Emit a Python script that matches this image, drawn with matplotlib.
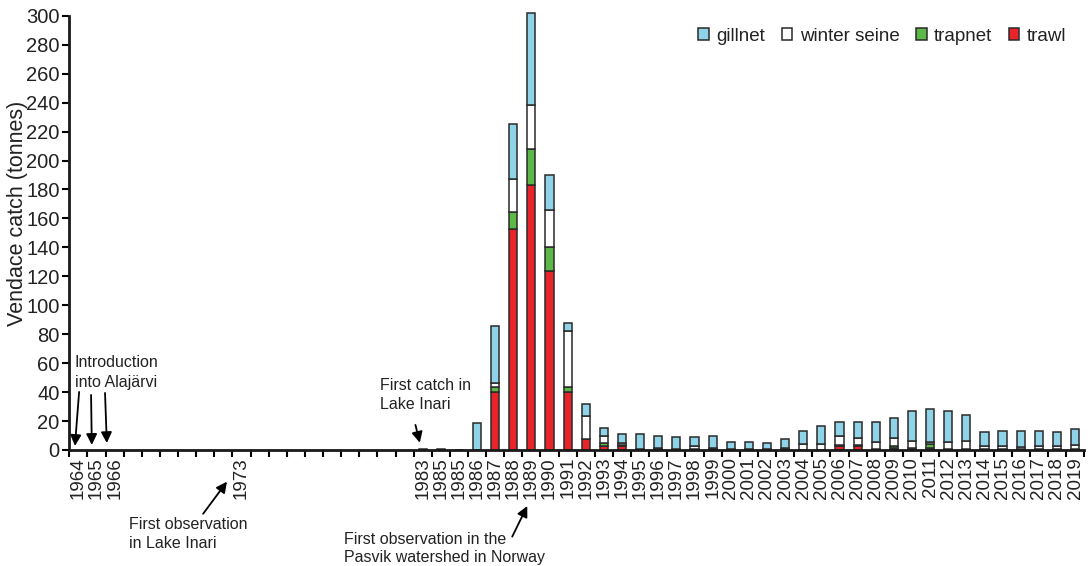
"""Vendace catch by gear type, Lake Inari / Pasvik"""
import matplotlib
matplotlib.use("Agg")
import matplotlib.pyplot as plt
import numpy as np

plt.rcParams['font.family'] = ['Liberation Sans', 'DejaVu Sans']

# year slots shown on the axis
first_year = 1964
last_year = 2019
tick_labels = ['1964', '1965', '1966', '', '', '', '', '', '', '1973',
               '', '', '', '', '', '', '', '', '',
               '1983', '1985', '1985', '1986', '1987', '1988', '1989', '1990', '1991', '1992',
               '1993', '1994', '1995', '1996', '1997', '1998', '1999', '2000', '2001', '2002',
               '2003', '2004', '2005', '2006', '2007', '2008', '2009', '2010', '2011', '2012',
               '2013', '2014', '2015', '2016', '2017', '2018', '2019']

# catch data (tonnes), 1983-2019
catch_years = [1983, 1984, 1985, 1986, 1987, 1988, 1989, 1990, 1991, 1992,
               1993, 1994, 1995, 1996, 1997, 1998, 1999, 2000, 2001, 2002,
               2003, 2004, 2005, 2006, 2007, 2008, 2009, 2010, 2011, 2012,
               2013, 2014, 2015, 2016, 2017, 2018, 2019]
trawl = [0, 0, 0, 0, 40, 152.5, 183.2, 123.7, 39.9, 7.4,
         3, 3, 0.3, 0.2, 0.2, 0.5, 0.3, 0.2, 0.2, 0.1,
         0.3, 0.2, 0.2, 3, 3, 0.3, 1.5, 1.2, 1.2, 0.2,
         0.2, 0.3, 0.2, 0.2, 0.2, 0.2, 0.2]
trapnet = [0, 0, 0, 0, 3.8, 12, 24.6, 16.9, 3.4, 0.3,
           1.6, 0.6, 0, 0.8, 0, 0.5, 0.3, 0, 0, 0,
           0.3, 0, 0, 0.3, 0.3, 0.2, 1.5, 0.5, 2.7, 0.2,
           0.2, 0.3, 0.2, 0.2, 0.2, 0.2, 0.2]
winter_seine = [0, 0, 0, 0, 2.7, 22.8, 30.4, 25.3, 39, 15.9,
                5.1, 1, 0.6, 0.2, 0.4, 1.5, 1, 0.3, 0.3, 0.3,
                1, 3.9, 3.9, 6.4, 5.2, 4.8, 5.5, 4.8, 1.4, 5.1,
                6.1, 2.4, 2.6, 1.6, 2.6, 2.6, 3.1]
gillnet = [0.6, 0.6, 0, 18.4, 39.2, 38, 63.6, 24, 5.7, 8,
           5.7, 6.7, 10.4, 8.7, 8.2, 6.3, 8.3, 5, 5, 4.2,
           6.2, 9, 12.3, 9.9, 11.1, 14.3, 13.4, 20.7, 22.8, 21.7,
           17.5, 9.2, 10.1, 11.1, 10.1, 9.2, 10.8]

colors = {'gillnet': '#8fd3e8', 'winter seine': '#ffffff',
          'trapnet': '#5db947', 'trawl': '#e8242a'}

fig = plt.figure(figsize=(10.9, 5.66), dpi=100)
ax = fig.add_axes([0.0636, 0.205, 0.931, 0.767])

x = np.array(catch_years)
width = 0.45
edge = dict(edgecolor='#2a2a2a', linewidth=1.1, clip_on=False)
b0 = np.zeros(len(x))
h_trawl = ax.bar(x, trawl, width, bottom=b0, color=colors['trawl'], label='trawl', **edge)
b1 = b0 + np.array(trawl)
h_trap = ax.bar(x, trapnet, width, bottom=b1, color=colors['trapnet'], label='trapnet', **edge)
b2 = b1 + np.array(trapnet)
h_ws = ax.bar(x, winter_seine, width, bottom=b2, color=colors['winter seine'], label='winter seine', **edge)
b3 = b2 + np.array(winter_seine)
h_gill = ax.bar(x, gillnet, width, bottom=b3, color=colors['gillnet'], label='gillnet', **edge)

ax.set_xlim(first_year - 0.5, last_year + 0.5)
ax.set_ylim(0, 300)
ax.set_yticks(np.arange(0, 301, 20))
ax.tick_params(axis='y', labelsize=14.5, length=5, width=1.5, direction='out', pad=2,
               labelcolor='#222222')

years = np.arange(first_year, last_year + 1)
ax.set_xticks(years)
ax.set_xticklabels(tick_labels, rotation=90, fontsize=13.5, color='#222222')
ax.set_xticks(np.arange(first_year - 0.5, last_year + 1), minor=True)
ax.tick_params(axis='x', which='major', length=0, pad=5)
ax.tick_params(axis='x', which='minor', length=5, width=1.5, direction='out')

for s in ['top', 'right']:
    ax.spines[s].set_visible(False)
for s in ['left', 'bottom']:
    ax.spines[s].set_linewidth(2)
    ax.spines[s].set_color('#1a1a1a')

ax.set_ylabel('Vendace catch (tonnes)', fontsize=15.5, color='#222222')
ax.yaxis.set_label_coords(-0.041, 0.544)

leg = ax.legend([h_gill, h_ws, h_trap, h_trawl], ['gillnet', 'winter seine', 'trapnet', 'trawl'],
                loc='upper right', bbox_to_anchor=(0.99, 0.99), borderaxespad=0, ncol=4,
                frameon=False, fontsize=13.5, handlelength=0.55, handleheight=0.55,
                handletextpad=0.4, columnspacing=0.9)
for t in leg.get_texts():
    t.set_color('#222222')

arrow = dict(arrowstyle='-|>', color='black', lw=1.3, mutation_scale=16, shrinkA=0, shrinkB=0)
note = dict(fontsize=11.5, color='#222222', annotation_clip=False)

# introduction into Alajarvi, 1964-1966
ax.text(1963.81, 41.5, 'Introduction\ninto Alajärvi', ha='left', va='bottom',
        fontsize=11.5, color='#222222', linespacing=1.4)
ax.annotate('', xy=(1963.81, 2.8), xytext=(1964.04, 40.1), arrowprops=arrow, annotation_clip=False)
ax.annotate('', xy=(1964.74, 3.5), xytext=(1964.70, 38.0), arrowprops=arrow, annotation_clip=False)
ax.annotate('', xy=(1965.57, 4.8), xytext=(1965.47, 39.4), arrowprops=arrow, annotation_clip=False)

ax.annotate('First observation\nin Lake Inari', xy=(1972.2, -21.9), xytext=(1966.8, -46.0),
            ha='left', va='top', linespacing=1.35, arrowprops=arrow, **note)
ax.text(1980.66, 26.3, 'First catch in\nLake Inari', ha='left', va='bottom',
        fontsize=11.5, color='#222222', linespacing=1.35)
ax.annotate('', xy=(1982.84, 5.0), xytext=(1982.6, 17.3), arrowprops=arrow, annotation_clip=False)
ax.text(1978.68, -56.5, 'First observation in the\nPasvik watershed in Norway', ha='left', va='top',
        fontsize=11.5, color='#222222', linespacing=1.25)
ax.annotate('', xy=(1988.77, -38.7), xytext=(1987.94, -59.9), arrowprops=arrow, annotation_clip=False)

plt.savefig('out.png', dpi=100)
